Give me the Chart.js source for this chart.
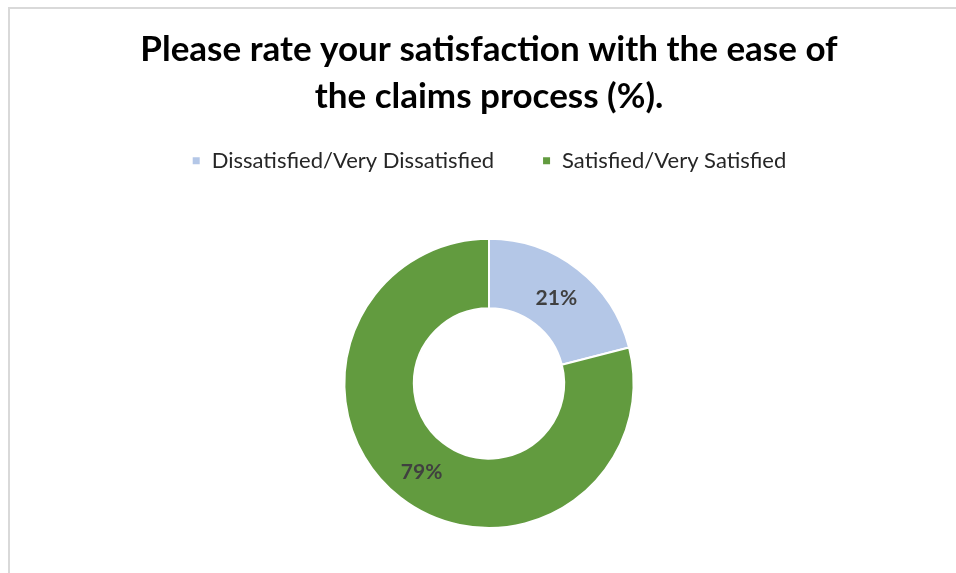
<!DOCTYPE html>
<html lang="en">
<head>
  <meta charset="UTF-8" />
  <title>Claims process satisfaction</title>
  <script src="https://cdn.jsdelivr.net/npm/chart.js"></script>
  <style>
    html, body { margin: 0; padding: 0; background: #fff; overflow: hidden; }
    .frame {
      position: absolute; left: 8px; top: 7px;
      width: 1000px; height: 600px;
      border: 2px solid #d9d9d9;
    }
    .wrap { position: absolute; left: 0; top: 0; width: 956px; height: 573px; }
  </style>
</head>
<body>
  <div class="frame"></div>
  <div class="wrap"><canvas id="chart" width="956" height="573"></canvas></div>

  <script>
    const categories = ['Dissatisfied/Very Dissatisfied', 'Satisfied/Very Satisfied'];
    const values = [21, 79];
    const colors = ['#b4c7e7', '#629b3f'];

    // percent labels in the middle of each ring slice
    const sliceLabels = {
      id: 'sliceLabels',
      afterDatasetsDraw(chart) {
        const ctx = chart.ctx;
        const meta = chart.getDatasetMeta(0);
        ctx.save();
        ctx.font = 'bold 21px Lato';
        ctx.fillStyle = '#404040';
        ctx.textAlign = 'center';
        ctx.textBaseline = 'middle';
        meta.data.forEach((arc, i) => {
          const p = arc.tooltipPosition();
          ctx.fillText(values[i] + '%', p.x, p.y + 2);
        });
        ctx.restore();
      }
    };

    // extra room between the legend and the ring
    const legendGap = {
      id: 'legendGap',
      beforeInit(chart) {
        const fit = chart.legend.fit;
        chart.legend.fit = function () {
          fit.bind(chart.legend)();
          this.height += 56;
        };
      }
    };

    new Chart(document.getElementById('chart'), {
      type: 'doughnut',
      data: {
        labels: categories,
        datasets: [{
          data: values,
          backgroundColor: colors,
          borderColor: '#ffffff',
          borderWidth: 2,
          cutout: '52%'
        }]
      },
      options: {
        responsive: false,
        animation: false,
        layout: { padding: { top: 26, bottom: 44, left: 22, right: 0 } },
        plugins: {
          title: {
            display: true,
            text: ['Please rate your satisfaction with the ease of', 'the claims process (%).'],
            color: '#000000',
            font: { family: 'Lato', size: 35, weight: 'bold', lineHeight: 1.34 },
            padding: { top: 0, bottom: -18 }
          },
          legend: {
            position: 'top',
            labels: {
              color: '#262626',
              font: { family: 'Lato', size: 22 },
              boxWidth: 9,
              boxHeight: 9,
              padding: 48
            }
          },
          tooltip: { enabled: false }
        }
      },
      plugins: [sliceLabels, legendGap]
    });
  </script>
</body>
</html>
